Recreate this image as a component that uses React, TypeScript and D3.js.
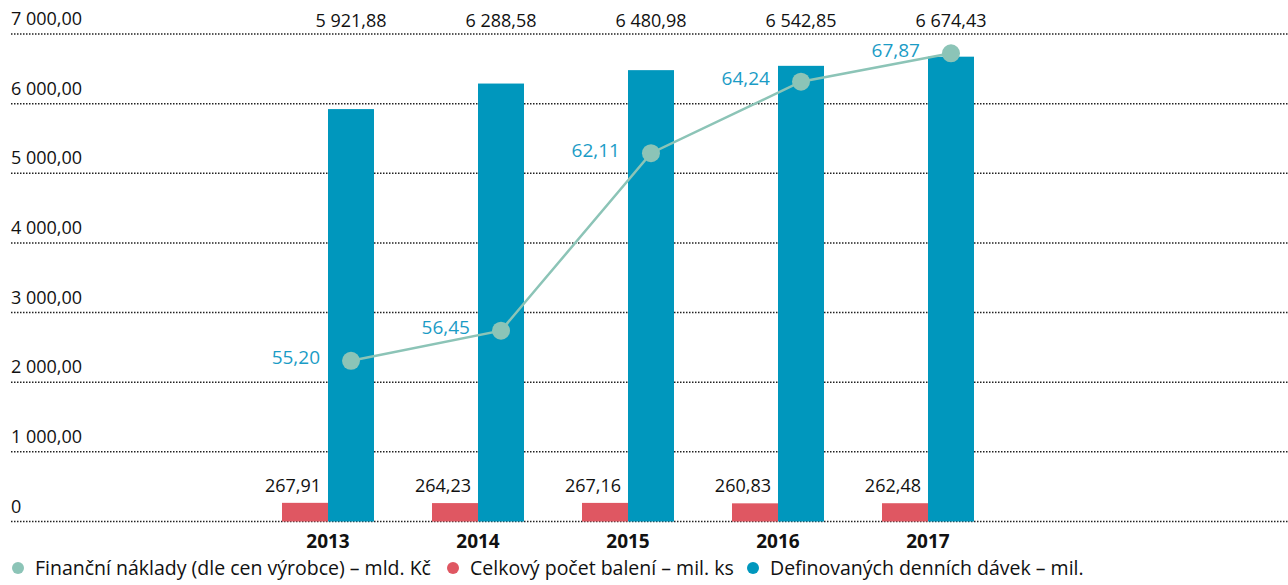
import React from 'react';
import * as d3 from 'd3';

const years = ['2013', '2014', '2015', '2016', '2017'];
// Celkový počet balení – mil. ks
const packs = [267.91, 264.23, 267.16, 260.83, 262.48];
// Definovaných denních dávek – mil.
const doses = [5921.88, 6288.58, 6480.98, 6542.85, 6674.43];
// Finanční náklady – mld. Kč (labels)
const costs = [55.2, 56.45, 62.11, 64.24, 67.87];
// where the cost line is actually drawn, read on the left axis
const costLineAt = [2307, 2740, 5288, 6315, 6723];
const yTicks = [0, 1000, 2000, 3000, 4000, 5000, 6000, 7000];

const legendItems = [
  { label: 'Finanční náklady (dle cen výrobce) – mld. Kč', color: '#8cc4b7', x: 18 },
  { label: 'Celkový počet balení – mil. ks', color: '#df5762', x: 453 },
  { label: 'Definovaných denních dávek – mil.', color: '#0097bd', x: 753 },
];

const W = 1288;
const H = 585;
const RED = '#df5762';
const BLUE = '#0097bd';
const TEAL = '#8cc4b7';
const LABEL_BLUE = '#1b9cc6';
const FONT = '"Open Sans", sans-serif';

const cz = d3.formatLocale({ decimal: ',', thousands: ' ', grouping: [3], currency: ['', ' Kč'] });
const fmt2 = cz.format(',.2f');

export default function App() {
  const x = d3.scaleBand<string>().domain(years).range([224, 1032]).paddingInner(0.3867).paddingOuter(0.3867);
  const sub = d3.scaleBand<string>().domain(['packs', 'doses']).range([0, x.bandwidth()]);
  const y = d3.scaleLinear().domain([0, 7000]).range([521.5, 34]);

  const blueCx = (i: number) => (x(years[i]) as number) + (sub('doses') as number) + sub.bandwidth() / 2;
  const line = d3
    .line<number>()
    .x((_, i) => blueCx(i))
    .y((d) => y(d));

  return (
    <svg width={W} height={H} style={{ position: 'absolute', left: 0, top: 0, fontFamily: FONT }}>
      {/* grid + y labels */}
      {yTicks.map((t) => (
        <g key={t}>
          <line x1={11} x2={W} y1={y(t)} y2={y(t)} stroke="#222" strokeWidth={1.5} strokeDasharray="1.5 1.5" />
          <text x={11} y={y(t) - 9} fontSize={18} fill="#111">
            {t === 0 ? '0' : fmt2(t)}
          </text>
        </g>
      ))}

      {/* bars */}
      {years.map((yr, i) => {
        const bx = x(yr) as number;
        const rx = bx + (sub('packs') as number);
        const dx = bx + (sub('doses') as number);
        return (
          <g key={yr}>
            <rect x={rx} y={y(packs[i])} width={sub.bandwidth()} height={y(0) - y(packs[i])} fill={RED} />
            <rect x={dx} y={y(doses[i])} width={sub.bandwidth()} height={y(0) - y(doses[i])} fill={BLUE} />
            <text x={rx + sub.bandwidth() - 7} y={y(packs[i]) - 11} textAnchor="end" fontSize={18} fill="#111">
              {fmt2(packs[i])}
            </text>
            <text x={dx + sub.bandwidth() / 2} y={27} textAnchor="middle" fontSize={18} fill="#111">
              {fmt2(doses[i])}
            </text>
            <text x={bx + x.bandwidth() / 2} y={548} textAnchor="middle" fontSize={19} fontWeight="bold" fill="#111">
              {yr}
            </text>
          </g>
        );
      })}

      {/* cost line */}
      <path d={line(costLineAt) ?? ''} fill="none" stroke={TEAL} strokeWidth={2.5} />
      {costLineAt.map((v, i) => (
        <g key={i}>
          <circle cx={blueCx(i)} cy={y(v)} r={9} fill={TEAL} />
          <text
            x={blueCx(i) - 31}
            y={y(v) - 3}
            dy="0.35em"
            textAnchor="end"
            fontSize={19}
            fill={LABEL_BLUE}
          >
            {fmt2(costs[i])}
          </text>
        </g>
      ))}

      {/* legend */}
      {legendItems.map((it) => (
        <g key={it.label}>
          <circle cx={it.x} cy={568} r={6} fill={it.color} />
          <text x={it.x + 17} y={575} fontSize={19.5} fill="#111">
            {it.label}
          </text>
        </g>
      ))}
    </svg>
  );
}
